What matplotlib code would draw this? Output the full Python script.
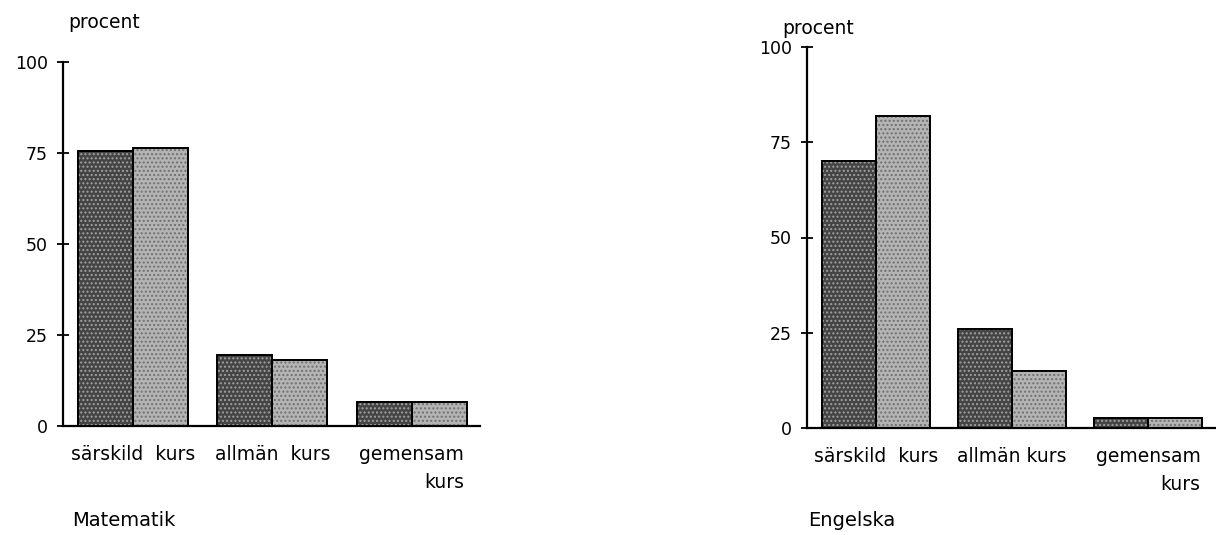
import matplotlib
matplotlib.use("Agg")
import matplotlib.pyplot as plt
import numpy as np

plt.rcParams['font.family'] = ['DejaVu Sans']
plt.rcParams['hatch.linewidth'] = 1.0

# Data
yticks = [0, 25, 50, 75, 100]
mat_categories = ["särskild  kurs", "allmän  kurs", "gemensam\nkurs"]
eng_categories = ["särskild  kurs", "allmän kurs", "gemensam\nkurs"]
mat_dark = [75.5, 19.5, 6.5]
mat_light = [76.5, 18, 6.5]
eng_dark = [70, 26, 2.5]
eng_light = [82, 15, 2.5]
titles = ["Matematik", "Engelska"]

W, H = 1216, 535
fig = plt.figure(figsize=(W / 100, H / 100), dpi=100)

def px_axes(left, top, right, bottom):
    return fig.add_axes([left / W, 1 - bottom / H, (right - left) / W, (bottom - top) / H])

def draw(ax, cats, dark, light, xlim, bw):
    x = np.arange(len(cats))
    ax.bar(x - bw / 2, dark, bw, color='#444444', edgecolor='black', linewidth=1.3, zorder=2)
    ax.bar(x - bw / 2, dark, bw, color='none', edgecolor='#a0a0a0', hatch='....', linewidth=0, zorder=3)
    ax.bar(x + bw / 2, light, bw, color='#b4b4b4', edgecolor='black', linewidth=1.3, zorder=2)
    ax.bar(x + bw / 2, light, bw, color='none', edgecolor='#707070', hatch='....', linewidth=0, zorder=3)
    ax.bar(x - bw / 2, dark, bw, color='none', edgecolor='black', linewidth=1.3, zorder=4)
    ax.bar(x + bw / 2, light, bw, color='none', edgecolor='black', linewidth=1.3, zorder=4)
    ax.set_xlim(*xlim)
    ax.set_ylim(0, 100)
    ax.set_yticks(yticks)
    ax.set_xticks(x)
    ax.set_xticklabels(cats, multialignment='right', linespacing=1.55)
    for s in ['top', 'right']:
        ax.spines[s].set_visible(False)
    ax.spines['left'].set_linewidth(1.6)
    ax.spines['bottom'].set_linewidth(1.6)
    ax.tick_params(axis='y', direction='inout', length=9, width=1.3, pad=6.5, labelsize=12.5)
    ax.tick_params(axis='x', length=0, pad=14, labelsize=13.5)
    ax.set_facecolor('none')

ax1 = px_axes(63, 62, 480, 426)
draw(ax1, mat_categories, mat_dark, mat_light, (-0.502, 2.49), 0.395)
ax2 = px_axes(807, 47, 1216, 428)
draw(ax2, eng_categories, eng_dark, eng_light, (-0.507, 2.5), 0.4)

fig.text(68 / W, 1 - 22 / H, "procent", fontsize=13.5, va='center', ha='left')
fig.text(782 / W, 1 - 28 / H, "procent", fontsize=13.5, va='center', ha='left')
fig.text(72 / W, 1 - 520 / H, titles[0], fontsize=14, va='center', ha='left')
fig.text(808 / W, 1 - 521 / H, titles[1], fontsize=14, va='center', ha='left')

fig.savefig("out.png", dpi=100)
